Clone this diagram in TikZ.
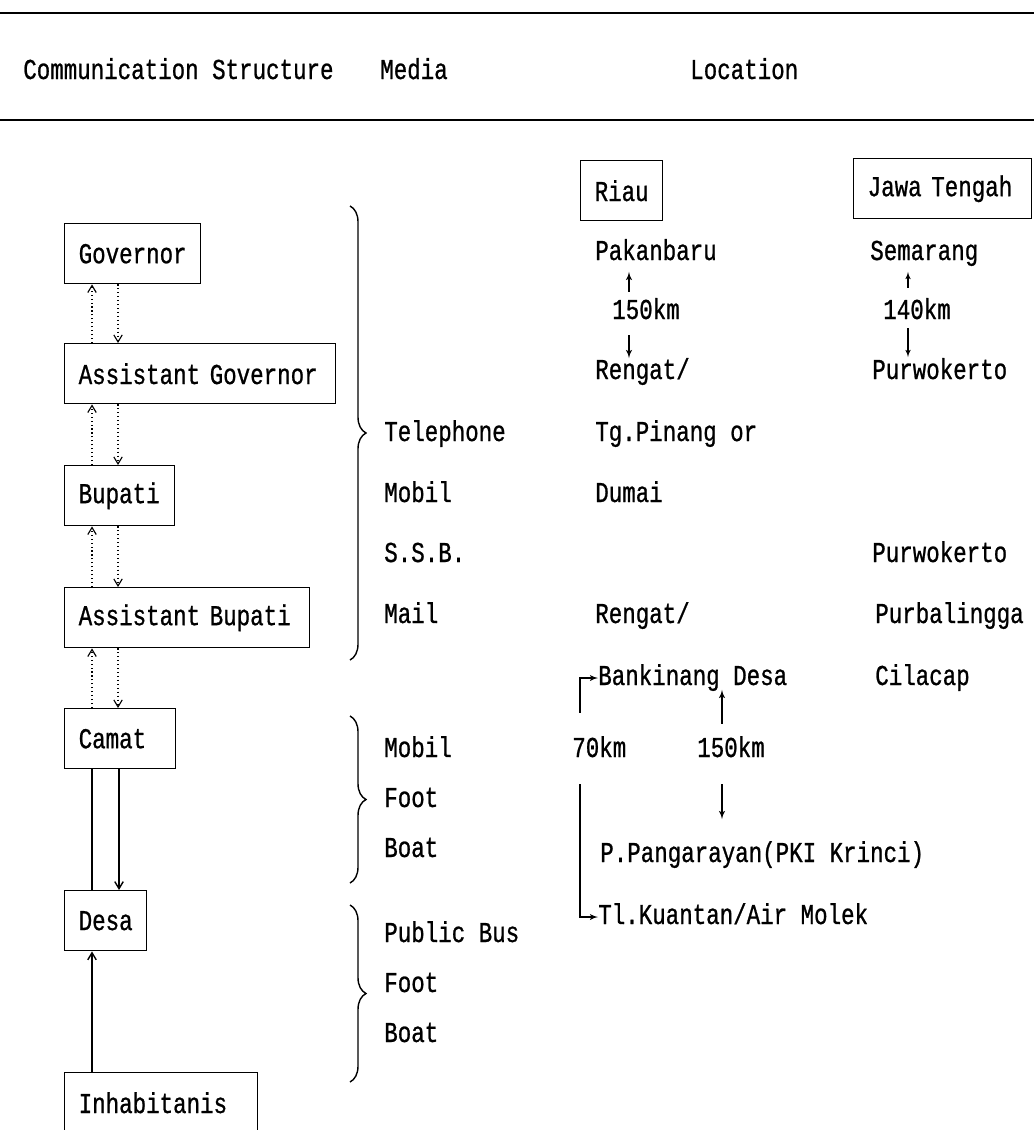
\documentclass[tikz,border=0pt]{standalone}
\usepackage{fontspec}
\setmainfont[FakeStretch=0.78, FakeBold=0.8]{Liberation Mono}
\usetikzlibrary{arrows, arrows.meta, calc, positioning, decorations.pathreplacing}
\tikzstyle{box}= [draw, line width=1pt, anchor=north west, minimum height=1.5cm, inner xsep=0.35cm, align=left]
\tikzstyle{lbl}= [inner sep=0pt, anchor=west, text height=0.47cm, text depth=0.12cm]
\tikzstyle{link}= [-{Straight Barb[length=5pt, width=6pt]}, line width=0.8pt, dotted]
\tikzstyle{wire}= [line width=1pt]
\tikzstyle{brc}= [decorate, decoration={brace, amplitude=0.4cm}, line width=1pt]

\begin{document}
\begin{tikzpicture}[x=0.025cm, y=-0.025cm, >=latex', font=\fontsize{20.5}{24}\selectfont]
    \useasboundingbox (0,0) rectangle (1034,1130);
    \fill[white] (0,0) rectangle (1034,1130);

    % header
    \draw[line width=1.4pt] (0,13) -- (1034,13);
    \draw[line width=1.2pt] (0,120) -- (1034,120);
    \node [lbl] (hcs) at (23,72) {Communication Structure};
    \node [lbl] (hmed) at (380,72) {Media};
    \node [lbl] (hloc) at (690,72) {Location};

    % communication structure
    \node [box, text width=2.7cm] (gov) at (64,223) {Governor};
    \node [box, text width=6.075cm] (ag) at (64,343) {Assistant Governor};
    \node [box, text width=2.05cm] (bup) at (64,465) {Bupati};
    \node [box, text width=5.425cm] (abup) at (64,587) {Assistant Bupati};
    \node [box, text width=2.075cm] (cam) at (64,708) {Camat};
    \node [box, text width=1.35cm] (desa) at (64,890) {Desa};
    \node [box, text width=4.125cm] (inh) at (64,1072) {Inhabitanis};

    % dotted links up and down
    \draw[link] ([xshift=0.7cm]ag.north west) -- ([xshift=0.7cm]gov.south west);
    \draw[link] ([xshift=1.35cm]gov.south west) -- ([xshift=1.35cm]ag.north west);
    \draw[link] ([xshift=0.7cm]bup.north west) -- ([xshift=0.7cm]ag.south west);
    \draw[link] ([xshift=1.35cm]ag.south west) -- ([xshift=1.35cm]bup.north west);
    \draw[link] ([xshift=0.7cm]abup.north west) -- ([xshift=0.7cm]bup.south west);
    \draw[link] ([xshift=1.35cm]bup.south west) -- ([xshift=1.35cm]abup.north west);
    \draw[link] ([xshift=0.7cm]cam.north west) -- ([xshift=0.7cm]abup.south west);
    \draw[link] ([xshift=1.35cm]abup.south west) -- ([xshift=1.35cm]cam.north west);

    % solid links
    \draw[wire] ([xshift=0.7cm]desa.north west) -- ([xshift=0.7cm]cam.south west);
    \draw[wire, -{Straight Barb[length=5pt, width=6pt]}] ([xshift=1.375cm]cam.south west) -- ([xshift=1.375cm]desa.north west);
    \draw[wire, -{Straight Barb[length=5pt, width=6pt]}] ([xshift=0.7cm]inh.north west) -- ([xshift=0.7cm]desa.south west);

    % media
    \draw[brc] (350,206) -- (350,660);
    \draw[brc] (350,716) -- (350,883);
    \draw[brc] (350,905) -- (350,1082);
    \node [lbl] (tel) at (384,434) {Telephone};
    \node [lbl] (mob1) at (384,495) {Mobil};
    \node [lbl] (ssb) at (384,555) {S.S.B.};
    \node [lbl] (mail) at (384,616) {Mail};
    \node [lbl] (mob2) at (384,750) {Mobil};
    \node [lbl] (foot1) at (384,800) {Foot};
    \node [lbl] (boat1) at (384,850) {Boat};
    \node [lbl] (bus) at (384,935) {Public Bus};
    \node [lbl] (foot2) at (384,985) {Foot};
    \node [lbl] (boat2) at (384,1035) {Boat};

    % location, Riau
    \node [box, text width=1.35cm] (riau) at (580,160) {Riau};
    \node [lbl] (pak) at (595,253) {Pakanbaru};
    \node [lbl] (km1) at (612,312) {150km};
    \node [lbl] (reng1) at (595,372) {Rengat/};
    \node [lbl] (tgp) at (595,434) {Tg.Pinang or};
    \node [lbl] (dumai) at (595,495) {Dumai};
    \node [lbl] (reng2) at (595,616) {Rengat/};
    \node [lbl] (bank) at (598,678) {Bankinang Desa};
    \node [lbl] (km70) at (572,750) {70km};
    \node [lbl] (km2) at (697,750) {150km};
    \node [lbl] (pkl) at (600,855) {P.Pangarayan(PKI Krinci)};
    \node [lbl] (kuan) at (598,917) {Tl.Kuantan/Air Molek};

    \draw[wire, ->] (km1.north west) ++(17,-8) -- ++(0,-20);
    \draw[wire, ->] (km1.south west) ++(17,11) -- ++(0,23);
    \draw[wire, ->] (km2.north west) ++(25,-14) -- ++(0,-34);
    \draw[wire, ->] (km2.south west) ++(25,22) -- ++(0,35);
    \draw[wire, ->] (km70.north west) ++(8,-25) |- (bank.west);
    \draw[wire, ->] (km70.south west) ++(8,22) |- (kuan.west);

    % location, Jawa Tengah
    \node [box, text width=3.75cm] (jawa) at (853,158) {Jawa Tengah};
    \node [lbl] (smg) at (870,253) {Semarang};
    \node [lbl] (km140) at (883,312) {140km};
    \node [lbl] (pwk1) at (872,372) {Purwokerto};
    \node [lbl] (pwk2) at (872,555) {Purwokerto};
    \node [lbl] (pbl) at (875,616) {Purbalingga};
    \node [lbl] (clc) at (875,678) {Cilacap};

    \draw[line width=0.8pt, ->] (km140.north west) ++(25,-12) -- ++(0,-16);
    \draw[line width=0.8pt, ->] (km140.south west) ++(25,4) -- ++(0,29);

\end{tikzpicture}
\end{document}
